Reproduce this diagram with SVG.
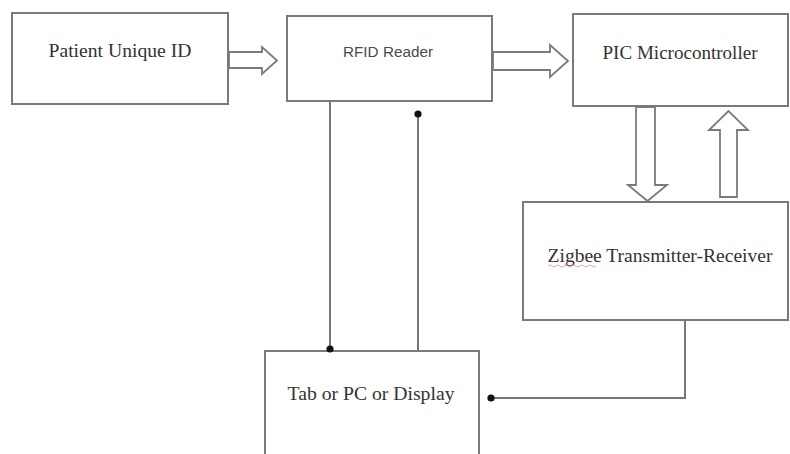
<svg xmlns="http://www.w3.org/2000/svg" width="790" height="454" viewBox="0 0 790 454">
<defs>
<style>
.box{fill:#fff;stroke:#7a7a7a;stroke-width:2}
.blk{fill:#fff;stroke:#7a7a7a;stroke-width:1.8;stroke-linejoin:miter}
.ln{fill:none;stroke:#777;stroke-width:2}
.t{font-family:"Liberation Serif","Times New Roman",serif;font-size:19px;fill:#333;text-anchor:middle}
.s{font-family:"Liberation Sans",Arial,sans-serif;font-size:14px;fill:#4a4a4a;text-anchor:middle}
</style>
<marker id="dot" viewBox="0 0 10 10" refX="5" refY="5" markerWidth="4" markerHeight="4" markerUnits="strokeWidth"><circle cx="5" cy="5" r="4.5" fill="#111"/></marker>
</defs>
<rect width="790" height="454" fill="#fff"/>
<g id="patient">
<rect class="box" x="12" y="13" width="216" height="91"/>
<text class="t" x="120" y="57" textLength="143" lengthAdjust="spacingAndGlyphs">Patient Unique ID</text>
</g>
<g id="rfid">
<rect class="box" x="287" y="16" width="205" height="85"/>
<text class="s" x="388" y="57" textLength="90" lengthAdjust="spacingAndGlyphs">RFID Reader</text>
</g>
<g id="pic">
<rect class="box" x="573" y="14" width="215" height="92"/>
<text class="t" x="680" y="59" textLength="155" lengthAdjust="spacingAndGlyphs">PIC Microcontroller</text>
</g>
<g id="zigbee">
<rect class="box" x="523" y="202" width="265" height="118"/>
<text class="t" x="660" y="262" textLength="225" lengthAdjust="spacingAndGlyphs">Zigbee Transmitter-Receiver</text>
<path d="M548 266 q2 -2 4 0 t4 0 t4 0 t4 0 t4 0 t4 0 t4 0 t4 0 t4 0 t4 0 t4 0 t4 0" fill="none" stroke="#e88" stroke-width="0.8"/>
</g>
<g id="display">
<rect class="box" x="265" y="351" width="214" height="110"/>
<text class="t" x="371" y="400" textLength="167" lengthAdjust="spacingAndGlyphs">Tab or PC or Display</text>
</g>
<g id="connectors">
<path class="blk" d="M229 52 H262 V47 L277 60.5 L262 74 V68 H229 Z"/>
<path class="blk" d="M493 52 H550 V45 L568 61 L550 77 V70 H493 Z"/>
<path class="blk" d="M636 107 H655 V185 H667 L647.5 201 L628 185 H636 Z"/>
<path class="blk" d="M720 197 V130 H709 L728.5 111 L748 130 H737 V197 Z"/>
<path class="ln" d="M330 102 V349" marker-end="url(#dot)"/>
<path class="ln" d="M418 350 V114" marker-end="url(#dot)"/>
<path class="ln" d="M685 321 V398 H491" marker-end="url(#dot)"/>
</g>
</svg>
